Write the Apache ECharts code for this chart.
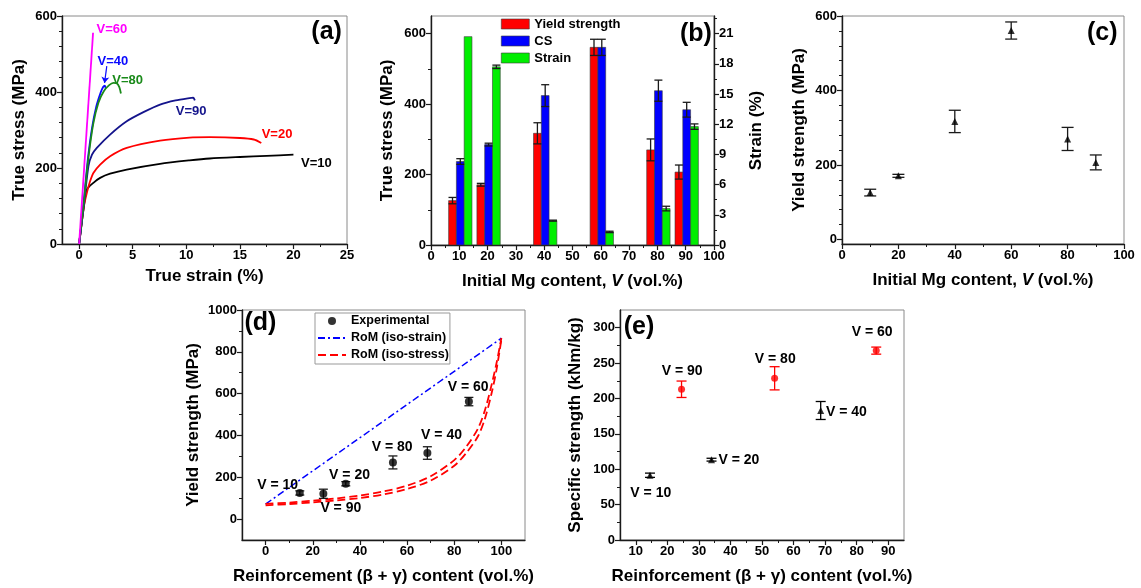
<!DOCTYPE html>
<html>
<head>
<meta charset="utf-8">
<script src="https://cdn.jsdelivr.net/npm/echarts@6.0.0/dist/echarts.min.js"></script>
<style>
  html, body { margin: 0; padding: 0; background: #ffffff; }
  #chart { width: 1141px; height: 588px; }
</style>
</head>
<body>
<div id="chart"></div>
<script>
// ---------------- (a) true stress–strain curves: [strain %, stress MPa] ----------------
const curveV10 = [[0,0],[0.4,90],[0.72,143],[1.33,161],[1.96,174],[2.89,185],[4.44,196],[7.55,211],[10.3,220],[12.2,225],[15,229],[17.5,232],[20,235]];
const curveV20 = [[0,0],[0.45,100],[0.75,138],[1.02,165],[1.33,187],[1.96,209],[2.89,231],[4.44,253],[7.55,272],[10.3,280],[12.2,281],[15,279],[16.3,275],[17,266]];
const curveV90 = [[0,0],[0.45,105],[0.87,205],[1.2,235],[1.65,253],[2.89,288],[4.44,323],[6,347],[7.55,367],[9,378],[10.3,384],[10.65,385],[10.8,378]];
const curveV40 = [[0,0],[0.4,105],[0.8,220],[1.2,305],[1.6,362],[2.0,398],[2.25,414],[2.4,417],[2.47,410]];
const curveV80 = [[0,0],[0.4,100],[0.87,228],[1.33,318],[1.8,372],[2.3,402],[2.8,418],[3.2,424],[3.5,423],[3.75,413],[3.9,396]];
const curveV60 = [[0,0],[1.3,556]];
const curveNames = ['V=10', 'V=20', 'V=90', 'V=40', 'V=80', 'V=60'];
const curveData = [curveV10, curveV20, curveV90, curveV40, curveV80, curveV60];
// curve tags: [text, strain, stress] (label centre)
const curveTags = [['V=60',3.05,565],['V=40',3.15,481],['V=80',4.52,431],['V=90',10.46,350],['V=20',18.47,288],['V=10',22.15,213]];

// ---------------- (b)/(c) properties vs initial Mg content ----------------
const mgContent     = [10, 20, 40, 60, 80, 90];
const yieldStrength = [126, 171, 317, 561, 270, 207];
const yieldErr      = [9, 4, 30, 23, 31, 20];
const compStrength  = [237, 285, 424, 561, 438, 384];
const compErr       = [8, 4, 31, 23, 30, 21];
const strainPct     = [20.7, 17.7, 2.42, 1.3, 3.62, 11.76];
const strainErr     = [0, 0.17, 0.05, 0.07, 0.23, 0.27];

// ---------------- (d)/(e) properties vs reinforcement (β+γ) content ----------------
const alloyTags     = ['V = 10', 'V = 90', 'V = 20', 'V = 80', 'V = 40', 'V = 60'];
const reinfContent  = [14.5, 24.5, 34, 54, 68.6, 86.2];
const expYield      = [125, 121, 169, 271, 316, 562];
const expYieldErr   = [10, 22, 10, 31, 30, 20];
const specStrength  = [91.5, 213, 113.5, 228.5, 183, 267.6];
const specErr       = [3, 11.6, 2, 16.4, 12.7, 5];
const highlighted   = ['V = 90', 'V = 80', 'V = 60'];
// rule-of-mixtures bounds: [content %, yield MPa]
const romIsoStrain  = [[0,72],[100,865]];
const romIsoStressA = [[0,66],[10,72],[20,80],[30,89],[40,101],[50,118],[60,144],[70,184],[80,255],[85,315],[90,395],[93,480],[96,610],[98,720],[100,860]];
const romIsoStressB = [[0,73],[10,79],[20,88],[30,99],[40,113],[50,132],[60,160],[70,205],[80,282],[85,345],[90,432],[93,520],[96,650],[98,750],[100,866]];
// label centres in data units
const tagPosD = [[5.1,160],[31.9,51],[35.6,209],[53.7,345],[74.6,402],[85.9,632]];
const tagPosE = [[14.75,65.6],[24.7,238],[42.7,113],[54.2,256],[76.75,181],[84.9,294]];

// ---------------- tick label values ----------------
const ticksAx = [0,5,10,15,20,25],  ticksAy = [0,200,400,600];
const ticksBx = [0,10,20,30,40,50,60,70,80,90,100], ticksBy = [0,200,400,600], ticksBy2 = [0,3,6,9,12,15,18,21];
const ticksCx = [0,20,40,60,80,100], ticksCy = [0,200,400,600];
const ticksDx = [0,20,40,60,80,100], ticksDy = [0,200,400,600,800,1000];
const ticksEx = [10,20,30,40,50,60,70,80,90], ticksEy = [0,50,100,150,200,250,300];

const FONT = '"Liberation Sans", Arial, Helvetica, sans-serif';
const INK = '#1a1a1a';
const RED = '#ff0000', BLUE = '#0000ff', GREEN = '#00ee00';
const curveColors = { 'V=10': '#000000', 'V=20': '#ff0000', 'V=90': '#14148c', 'V=40': '#0a0aff', 'V=80': '#1a8a1a', 'V=60': '#ff00ff' };

function valAxis(grid, o) {
  return {
    type: 'value', gridIndex: grid, min: o.min, max: o.max,
    interval: o.interval, splitNumber: o.split, position: o.position,
    name: o.name, nameLocation: 'middle', nameGap: o.gap,
    nameTextStyle: Object.assign({ color: '#000', fontFamily: FONT, fontWeight: 'bold', fontSize: 17 }, o.nameStyle || {}),
    axisLine: { show: true, onZero: false, lineStyle: { color: INK, width: 1.4 } },
    axisTick: { show: true, inside: false, length: 5, customValues: o.ticks, lineStyle: { color: INK, width: 1.2 } },
    minorTick: { show: true, splitNumber: o.minor || 2, length: 3, lineStyle: { color: INK, width: 1 } },
    splitLine: { show: false },
    axisLabel: { show: true, customValues: o.ticks, formatter: v => String(v), color: '#000',
                 fontFamily: FONT, fontWeight: 'bold', fontSize: 13, margin: 5 }
  };
}

// error bars drawn through the axis scales
function errorBars(capHalf, color) {
  return function (params, api) {
    const x = api.value(0), y = api.value(1), e = api.value(2);
    if (!e) return null;
    const hi = api.coord([x, y + e]), lo = api.coord([x, y - e]);
    const st = { stroke: color, lineWidth: 1.3 };
    return { type: 'group', children: [
      { type: 'line', shape: { x1: hi[0], y1: hi[1], x2: lo[0], y2: lo[1] }, style: st },
      { type: 'line', shape: { x1: hi[0] - capHalf, y1: hi[1], x2: hi[0] + capHalf, y2: hi[1] }, style: st },
      { type: 'line', shape: { x1: lo[0] - capHalf, y1: lo[1], x2: lo[0] + capHalf, y2: lo[1] }, style: st }
    ] };
  };
}

// grouped columns: width given in x-axis units
const BAR_W = 2.75;
const BAR_SHIFT = [-2.4, 0.35, 3.1];
function columns(params, api) {
  const x = api.value(0), y = api.value(1);
  const p0 = api.coord([x - BAR_W / 2, y]);
  const p1 = api.coord([x + BAR_W / 2, 0]);
  return { type: 'rect', shape: { x: p0[0], y: p0[1], width: p1[0] - p0[0], height: p1[1] - p0[1] },
           style: { fill: api.visual('color'), stroke: '#3a3a3a', lineWidth: 0.6 } };
}

// free text placed in data units of a panel: items = [{text, x, y, color}]
function textLayer(xi, yi, items, size) {
  return {
    type: 'custom', xAxisIndex: xi, yAxisIndex: yi, silent: true, z: 20, clip: false,
    encode: { x: 0, y: 1 },
    data: items.map(t => [t.x, t.y]),
    renderItem: function (params, api) {
      const t = items[params.dataIndex];
      const p = api.coord([api.value(0), api.value(1)]);
      return { type: 'text', x: p[0], y: p[1],
               style: { text: t.text, fill: t.color || '#000', font: 'bold ' + size + 'px ' + FONT,
                        align: 'center', verticalAlign: 'middle' } };
    }
  };
}

const series = [];

// (a) curves
curveData.forEach((d, i) => {
  const nm = curveNames[i];
  const s = { type: 'line', name: nm, xAxisIndex: 0, yAxisIndex: 0, data: d, showSymbol: false, symbol: 'none',
              smooth: nm === 'V=60' ? false : 0.25, lineStyle: { color: curveColors[nm], width: 1.8 }, z: 5 + i };
  if (nm === 'V=40') {
    s.markLine = { silent: true, symbol: ['none', 'arrow'], symbolSize: 6, label: { show: false },
      lineStyle: { color: curveColors[nm], width: 1.2, type: 'solid' },
      data: [[{ coord: [2.58, 468] }, { coord: [2.37, 424] }]] };
  }
  series.push(s);
});
series.push(textLayer(0, 0, curveTags.map(t => ({ text: t[0], x: t[1], y: t[2], color: curveColors[t[0]] })), 13));
series.push(textLayer(0, 0, [{ text: '(a)', x: 23.1, y: 557 }], 25));

// (b) grouped columns with error bars
const groups = [
  { name: 'Yield strength', vals: yieldStrength, errs: yieldErr, color: RED, y: 1, shift: BAR_SHIFT[0] },
  { name: 'CS', vals: compStrength, errs: compErr, color: BLUE, y: 1, shift: BAR_SHIFT[1] },
  { name: 'Strain', vals: strainPct, errs: strainErr, color: GREEN, y: 2, shift: BAR_SHIFT[2] }
];
groups.forEach(g => {
  const d = g.vals.map((v, i) => [mgContent[i] + g.shift, v, g.errs[i]]);
  series.push({ type: 'custom', name: g.name, xAxisIndex: 1, yAxisIndex: g.y, renderItem: columns,
                itemStyle: { color: g.color }, encode: { x: 0, y: 1 }, data: d, z: 3 });
  series.push({ type: 'custom', name: g.name + ' err', xAxisIndex: 1, yAxisIndex: g.y, renderItem: errorBars(4, INK),
                encode: { x: 0, y: [1, 2] }, data: d, z: 4 });
});
series.push(textLayer(1, 1, [{ text: '(b)', x: 93.6, y: 599 }], 25));

// (c) yield strength vs Mg content
const cData = yieldStrength.map((v, i) => [mgContent[i], v, yieldErr[i]]);
series.push({ type: 'custom', name: 'c err', xAxisIndex: 2, yAxisIndex: 3, renderItem: errorBars(6, INK), encode: { x: 0, y: 1 }, data: cData, z: 3 });
series.push({ type: 'scatter', name: 'Yield (c)', xAxisIndex: 2, yAxisIndex: 3, symbol: 'triangle', symbolSize: 7,
              itemStyle: { color: '#000' }, data: cData.map(p => [p[0], p[1]]), z: 4 });
series.push(textLayer(2, 3, [{ text: '(c)', x: 92.3, y: 555 }], 25));

// (d) rule-of-mixtures bounds and experiments
series.push({ type: 'line', name: 'RoM (iso-strain)', xAxisIndex: 3, yAxisIndex: 4, data: romIsoStrain, symbol: 'none', showSymbol: false,
              lineStyle: { color: BLUE, width: 1.5, type: [7, 3, 2, 3] }, itemStyle: { color: BLUE }, z: 2 });
[romIsoStressA, romIsoStressB].forEach(d => {
  series.push({ type: 'line', name: 'RoM (iso-stress)', xAxisIndex: 3, yAxisIndex: 4, data: d, symbol: 'none', showSymbol: false,
                smooth: 0.3, lineStyle: { color: RED, width: 1.8, type: [8, 4] }, itemStyle: { color: RED }, z: 2 });
});
const dData = reinfContent.map((x, i) => [x, expYield[i], expYieldErr[i]]);
series.push({ type: 'custom', name: 'd err', xAxisIndex: 3, yAxisIndex: 4, renderItem: errorBars(4.5, INK), encode: { x: 0, y: 1 }, data: dData, z: 3 });
series.push({ type: 'scatter', name: 'Experimental', xAxisIndex: 3, yAxisIndex: 4, symbol: 'circle', symbolSize: 8,
              itemStyle: { color: '#000' }, data: dData.map(p => [p[0], p[1]]), z: 4 });
series.push(textLayer(3, 4, alloyTags.map((t, i) => ({ text: t, x: tagPosD[i][0], y: tagPosD[i][1] })), 14));
series.push(textLayer(3, 4, [{ text: '(d)', x: -2.2, y: 937 }], 25));

// (e) specific strength
['plain', 'hl'].forEach(kind => {
  const idx = alloyTags.map((t, i) => i).filter(i => (highlighted.indexOf(alloyTags[i]) >= 0) === (kind === 'hl'));
  const col = kind === 'hl' ? RED : '#000';
  const d = idx.map(i => [reinfContent[i], specStrength[i], specErr[i]]);
  series.push({ type: 'custom', name: 'e err ' + kind, xAxisIndex: 4, yAxisIndex: 5, renderItem: errorBars(5, col), encode: { x: 0, y: 1 }, data: d, z: 3 });
  series.push({ type: 'scatter', name: 'e ' + kind, xAxisIndex: 4, yAxisIndex: 5, symbol: kind === 'hl' ? 'circle' : 'triangle',
                symbolSize: 7, itemStyle: { color: col }, data: d.map(p => [p[0], p[1]]), z: 4 });
});
series.push(textLayer(4, 5, alloyTags.map((t, i) => ({ text: t, x: tagPosE[i][0], y: tagPosE[i][1] })), 14));
series.push(textLayer(4, 5, [{ text: '(e)', x: 11.0, y: 301 }], 25));

const gridStyle = { show: true, borderColor: '#8a8a8a', borderWidth: 1, backgroundColor: 'transparent' };
const lineIconHidden = { color: 'rgba(0,0,0,0)', borderWidth: 0 };
const option = {
  animation: false,
  backgroundColor: '#ffffff',
  grid: [
    Object.assign({ left: 62,  top: 16,  width: 285, height: 228 }, gridStyle),
    Object.assign({ left: 431, top: 16,  width: 283, height: 229 }, gridStyle),
    Object.assign({ left: 842, top: 16,  width: 282, height: 228 }, gridStyle),
    Object.assign({ left: 242, top: 310, width: 283, height: 230 }, gridStyle),
    Object.assign({ left: 620, top: 310, width: 284, height: 230 }, gridStyle)
  ],
  xAxis: [
    valAxis(0, { min: -1.6, max: 25, split: 5, ticks: ticksAx, name: 'True strain (%)', gap: 24 }),
    valAxis(1, { min: 0, max: 100, interval: 10, ticks: ticksBx, name: 'Initial Mg content, {i|V} (vol.%)', gap: 28,
                 nameStyle: { rich: { i: { fontStyle: 'italic', fontWeight: 'bold', fontSize: 17, fontFamily: FONT, color: '#000' } } } }),
    valAxis(2, { min: 0, max: 100, interval: 20, ticks: ticksCx, name: 'Initial Mg content, {i|V} (vol.%)', gap: 28,
                 nameStyle: { rich: { i: { fontStyle: 'italic', fontWeight: 'bold', fontSize: 17, fontFamily: FONT, color: '#000' } } } }),
    valAxis(3, { min: -10, max: 110, split: 6, ticks: ticksDx, name: 'Reinforcement (β + γ) content (vol.%)', gap: 28 }),
    valAxis(4, { min: 5, max: 95, split: 9, ticks: ticksEx, name: 'Reinforcement (β + γ) content (vol.%)', gap: 28 })
  ],
  yAxis: [
    valAxis(0, { min: 0, max: 600, interval: 200, minor: 5, ticks: ticksAy, name: 'True stress (MPa)', gap: 34 }),
    valAxis(1, { min: 0, max: 650, interval: 200, ticks: ticksBy, name: 'True stress (MPa)', gap: 35 }),
    valAxis(1, { min: 0, max: 22.75, interval: 3, ticks: ticksBy2, position: 'right', name: 'Strain (%)', gap: 34 }),
    valAxis(2, { min: -12, max: 600, split: 3, minor: 5, ticks: ticksCy, name: 'Yield strength (MPa)', gap: 34 }),
    valAxis(3, { min: -100, max: 1000, split: 5, ticks: ticksDy, name: 'Yield strength (MPa)', gap: 40 }),
    valAxis(4, { min: 0, max: 325, interval: 50, ticks: ticksEy, name: 'Specific strength (kNm/kg)', gap: 36 })
  ],
  legend: [
    { orient: 'vertical', left: 501, top: 17, selectedMode: false, icon: 'rect', itemWidth: 28, itemHeight: 10, itemGap: 3,
      padding: 0, textStyle: { fontFamily: FONT, fontWeight: 'bold', fontSize: 13, color: '#000', lineHeight: 14 },
      data: [
        { name: 'Yield strength', itemStyle: { color: RED, borderColor: '#3a3a3a', borderWidth: 0.6 } },
        { name: 'CS', itemStyle: { color: BLUE, borderColor: '#3a3a3a', borderWidth: 0.6 } },
        { name: 'Strain', itemStyle: { color: GREEN, borderColor: '#3a3a3a', borderWidth: 0.6 } }
      ] },
    { orient: 'vertical', left: 315, top: 313, selectedMode: false, itemWidth: 28, itemHeight: 8, itemGap: 3,
      padding: [1, 1, 2, 2], borderColor: '#999', borderWidth: 1, backgroundColor: '#fff',
      textStyle: { fontFamily: FONT, fontWeight: 'bold', fontSize: 12.5, color: '#000', lineHeight: 14 },
      data: [
        'Experimental',
        { name: 'RoM (iso-strain)', itemStyle: lineIconHidden },
        { name: 'RoM (iso-stress)', itemStyle: lineIconHidden }
      ] }
  ],
  series: series
};

const chart = echarts.init(document.getElementById('chart'), null, { renderer: 'canvas' });
chart.setOption(option);
</script>
</body>
</html>
